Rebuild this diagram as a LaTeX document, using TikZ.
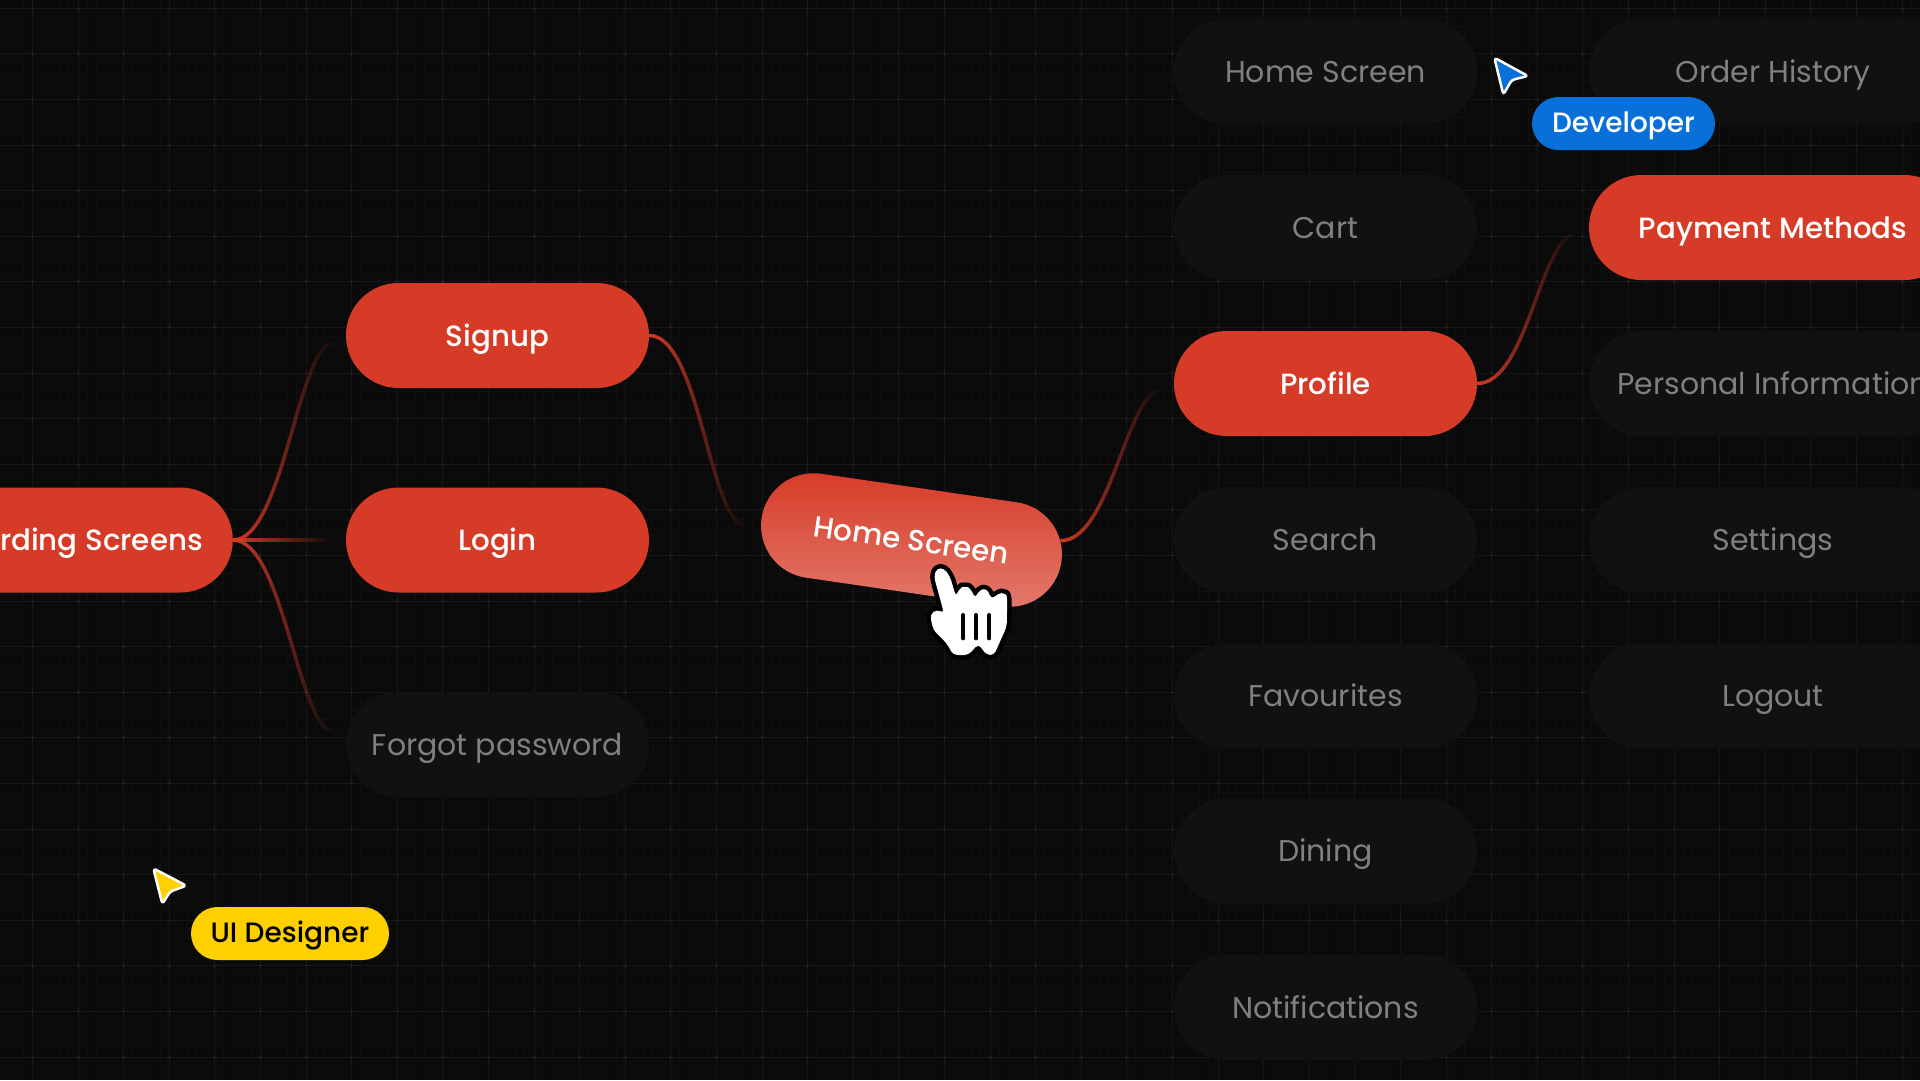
\documentclass[tikz,border=0pt]{standalone}
\usepackage{fontspec}
\setmainfont{Poppins}[BoldFont={Poppins Medium}]
\usetikzlibrary{shapes.misc, fadings}
\definecolor{bgcol}{HTML}{0A0A0A}
\definecolor{gridminor}{HTML}{0F0F0F}
\definecolor{gridmajor}{HTML}{161616}
\definecolor{gridcross}{HTML}{222222}
\definecolor{pillred}{HTML}{D63B27}
\definecolor{pilldark}{HTML}{111111}
\definecolor{textgrey}{HTML}{808080}
\definecolor{tagblue}{HTML}{0870D8}
\definecolor{tagyellow}{HTML}{FFD000}
\tikzset{
    pill/.style={rectangle, rounded corners=52.5pt, minimum width=303pt, minimum height=105pt, inner sep=0pt, text height=27pt, text depth=6pt, font=\fontsize{30}{36}\selectfont},
    active/.style={pill, fill=pillred, text=white, font=\fontsize{29.3}{36}\selectfont\bfseries},
    idle/.style={pill, fill=pilldark, text=textgrey},
    wide/.style={minimum width=368pt},
    tag/.style={rectangle, rounded corners=26.5pt, minimum height=53pt, inner sep=0pt, text height=23pt, text depth=5pt, font=\fontsize{28}{32}\selectfont\bfseries},
    link/.style={pillred, line width=3.5pt, path fading=east},
    pointer/.style={draw=white, line width=2.5pt, line join=round, rounded corners=3pt}
}
\begin{document}
\begin{tikzpicture}[x=1pt, y=-1pt]
    \useasboundingbox (0,0) rectangle (1920,1080);
    \clip (0,0) rectangle (1920,1080);
    \fill [bgcol] (0,0) rectangle (1920,1080);

    % grid
    \foreach \i in {-3,...,210} {
        \draw [gridminor, line width=0.8pt] ({32.3+9.12*\i},0) -- ({32.3+9.12*\i},1080);
    }
    \foreach \i in {-1,...,118} {
        \draw [gridminor, line width=0.8pt] (0,{8.2+9.12*\i}) -- (1920,{8.2+9.12*\i});
    }
    \foreach \i in {0,...,42} {
        \draw [gridmajor, line width=0.8pt] ({32.3+45.6*\i},0) -- ({32.3+45.6*\i},1080);
    }
    \foreach \i in {0,...,23} {
        \draw [gridmajor, line width=0.8pt] (0,{8.2+45.6*\i}) -- (1920,{8.2+45.6*\i});
    }
    \foreach \i in {0,...,42} {
        \foreach \j in {0,...,23} {
            \draw [gridcross, line width=0.8pt] ({32.3+45.6*\i-2},{8.2+45.6*\j}) -- ++(4,0) ({32.3+45.6*\i},{8.2+45.6*\j-2}) -- ++(0,4);
        }
    }

    % left part
    \node (onboard) [active, anchor=east, inner xsep=30pt] at (233,540) {Onboarding Screens};
    \node (signup) [active] at (497.5,335.5) {Signup};
    \node (login) [active] at (497.5,540) {Login};
    \node (forgot) [idle] at (497.5,744.5) {Forgot password};
    \node (home) [shape=rounded rectangle, minimum width=303pt, minimum height=105pt, inner sep=0pt, rotate=-8.3, text height=27pt, text depth=6pt,
        top color=pillred, bottom color=pillred!68!white, text=white, font=\fontsize{29.3}{36}\selectfont\bfseries] at (911.5,540) {Home Screen};

    % first column
    \node (homeitem) [idle] at (1325.5,71.5) {Home Screen};
    \node (cart) [idle] at (1325.5,227.5) {Cart};
    \node (profile) [active] at (1325.5,383.5) {Profile};
    \node (search) [idle] at (1325.5,540) {Search};
    \node (favourites) [idle] at (1325.5,696) {Favourites};
    \node (dining) [idle] at (1325.5,851) {Dining};
    \node (notifications) [idle] at (1325.5,1007.5) {Notifications};

    % second column
    \node (orders) [idle, wide] at (1773,71.5) {Order History};
    \node (payment) [active, wide] at (1773,227.5) {Payment Methods};
    \node (personal) [idle, wide] at (1773,383.5) {Personal Information};
    \node (settings) [idle, wide] at (1773,540) {Settings};
    \node (logout) [idle, wide] at (1773,696) {Logout};

    % links
    \draw [link] (onboard.east) .. controls +(50,0) and +(-35,5) .. ([xshift=-13pt,yshift=-7pt]signup.west);
    \draw [link] (onboard.east) -- ([xshift=-15pt]login.west);
    \draw [link] (onboard.east) .. controls +(50,0) and +(-35,-5) .. ([xshift=-13pt,yshift=13pt]forgot.west);
    \draw [link] (signup.east) .. controls +(50,0) and +(-35,-5) .. ([xshift=-17pt,yshift=-7pt]home.west);
    \draw [link] (home.8) .. controls +(50,0) and +(-35,5) .. ([xshift=-13pt,yshift=-6pt]profile.west);
    \draw [link] (profile.east) .. controls +(50,0) and +(-35,5) .. ([xshift=-14pt,yshift=-7pt]payment.west);

    % hand
    \begin{scope}[shift={(720,440)}, scale=1/3]
        \path [draw=black, line width=9pt, line join=round, rounded corners=4pt, postaction={draw=none, fill=white}]
            (630,525) -- (650,508) -- (672,520) -- (642,410) -- (650,385) -- (672,385) -- (690,410) -- (708,470)
            -- (718,445) -- (735,438) -- (752,445) -- (765,475) -- (778,450) -- (800,445) -- (815,478)
            -- (835,460) -- (855,458) -- (862,472) -- (860,560) -- (822,645) -- (800,645) -- (775,612)
            -- (745,645) -- (700,645) -- (680,610) -- (640,570) -- cycle;
        \foreach \s in {730,768,808} {
            \draw [black, line width=4pt, line cap=round] (\s,525) -- (\s,595);
        }
    \end{scope}

    % pointers
    \begin{scope}[shift={(1440,0)}, scale=1/3]
        \draw [pointer, fill=tagblue] (163,173) -- (264,228) -- (215,240) -- (190,284) -- cycle;
    \end{scope}
    \node (developer) [tag, fill=tagblue, text=white, minimum width=183pt] at (1623.5,123.5) {Developer};
    \begin{scope}[shift={(130,840)}, scale=1/3]
        \draw [pointer, fill=tagyellow] (70,85) -- (169,137) -- (120,155) -- (97,192) -- cycle;
    \end{scope}
    \node (designer) [tag, fill=tagyellow, text=black, minimum width=198pt] at (290,933.5) {UI Designer};
\end{tikzpicture}
\end{document}
